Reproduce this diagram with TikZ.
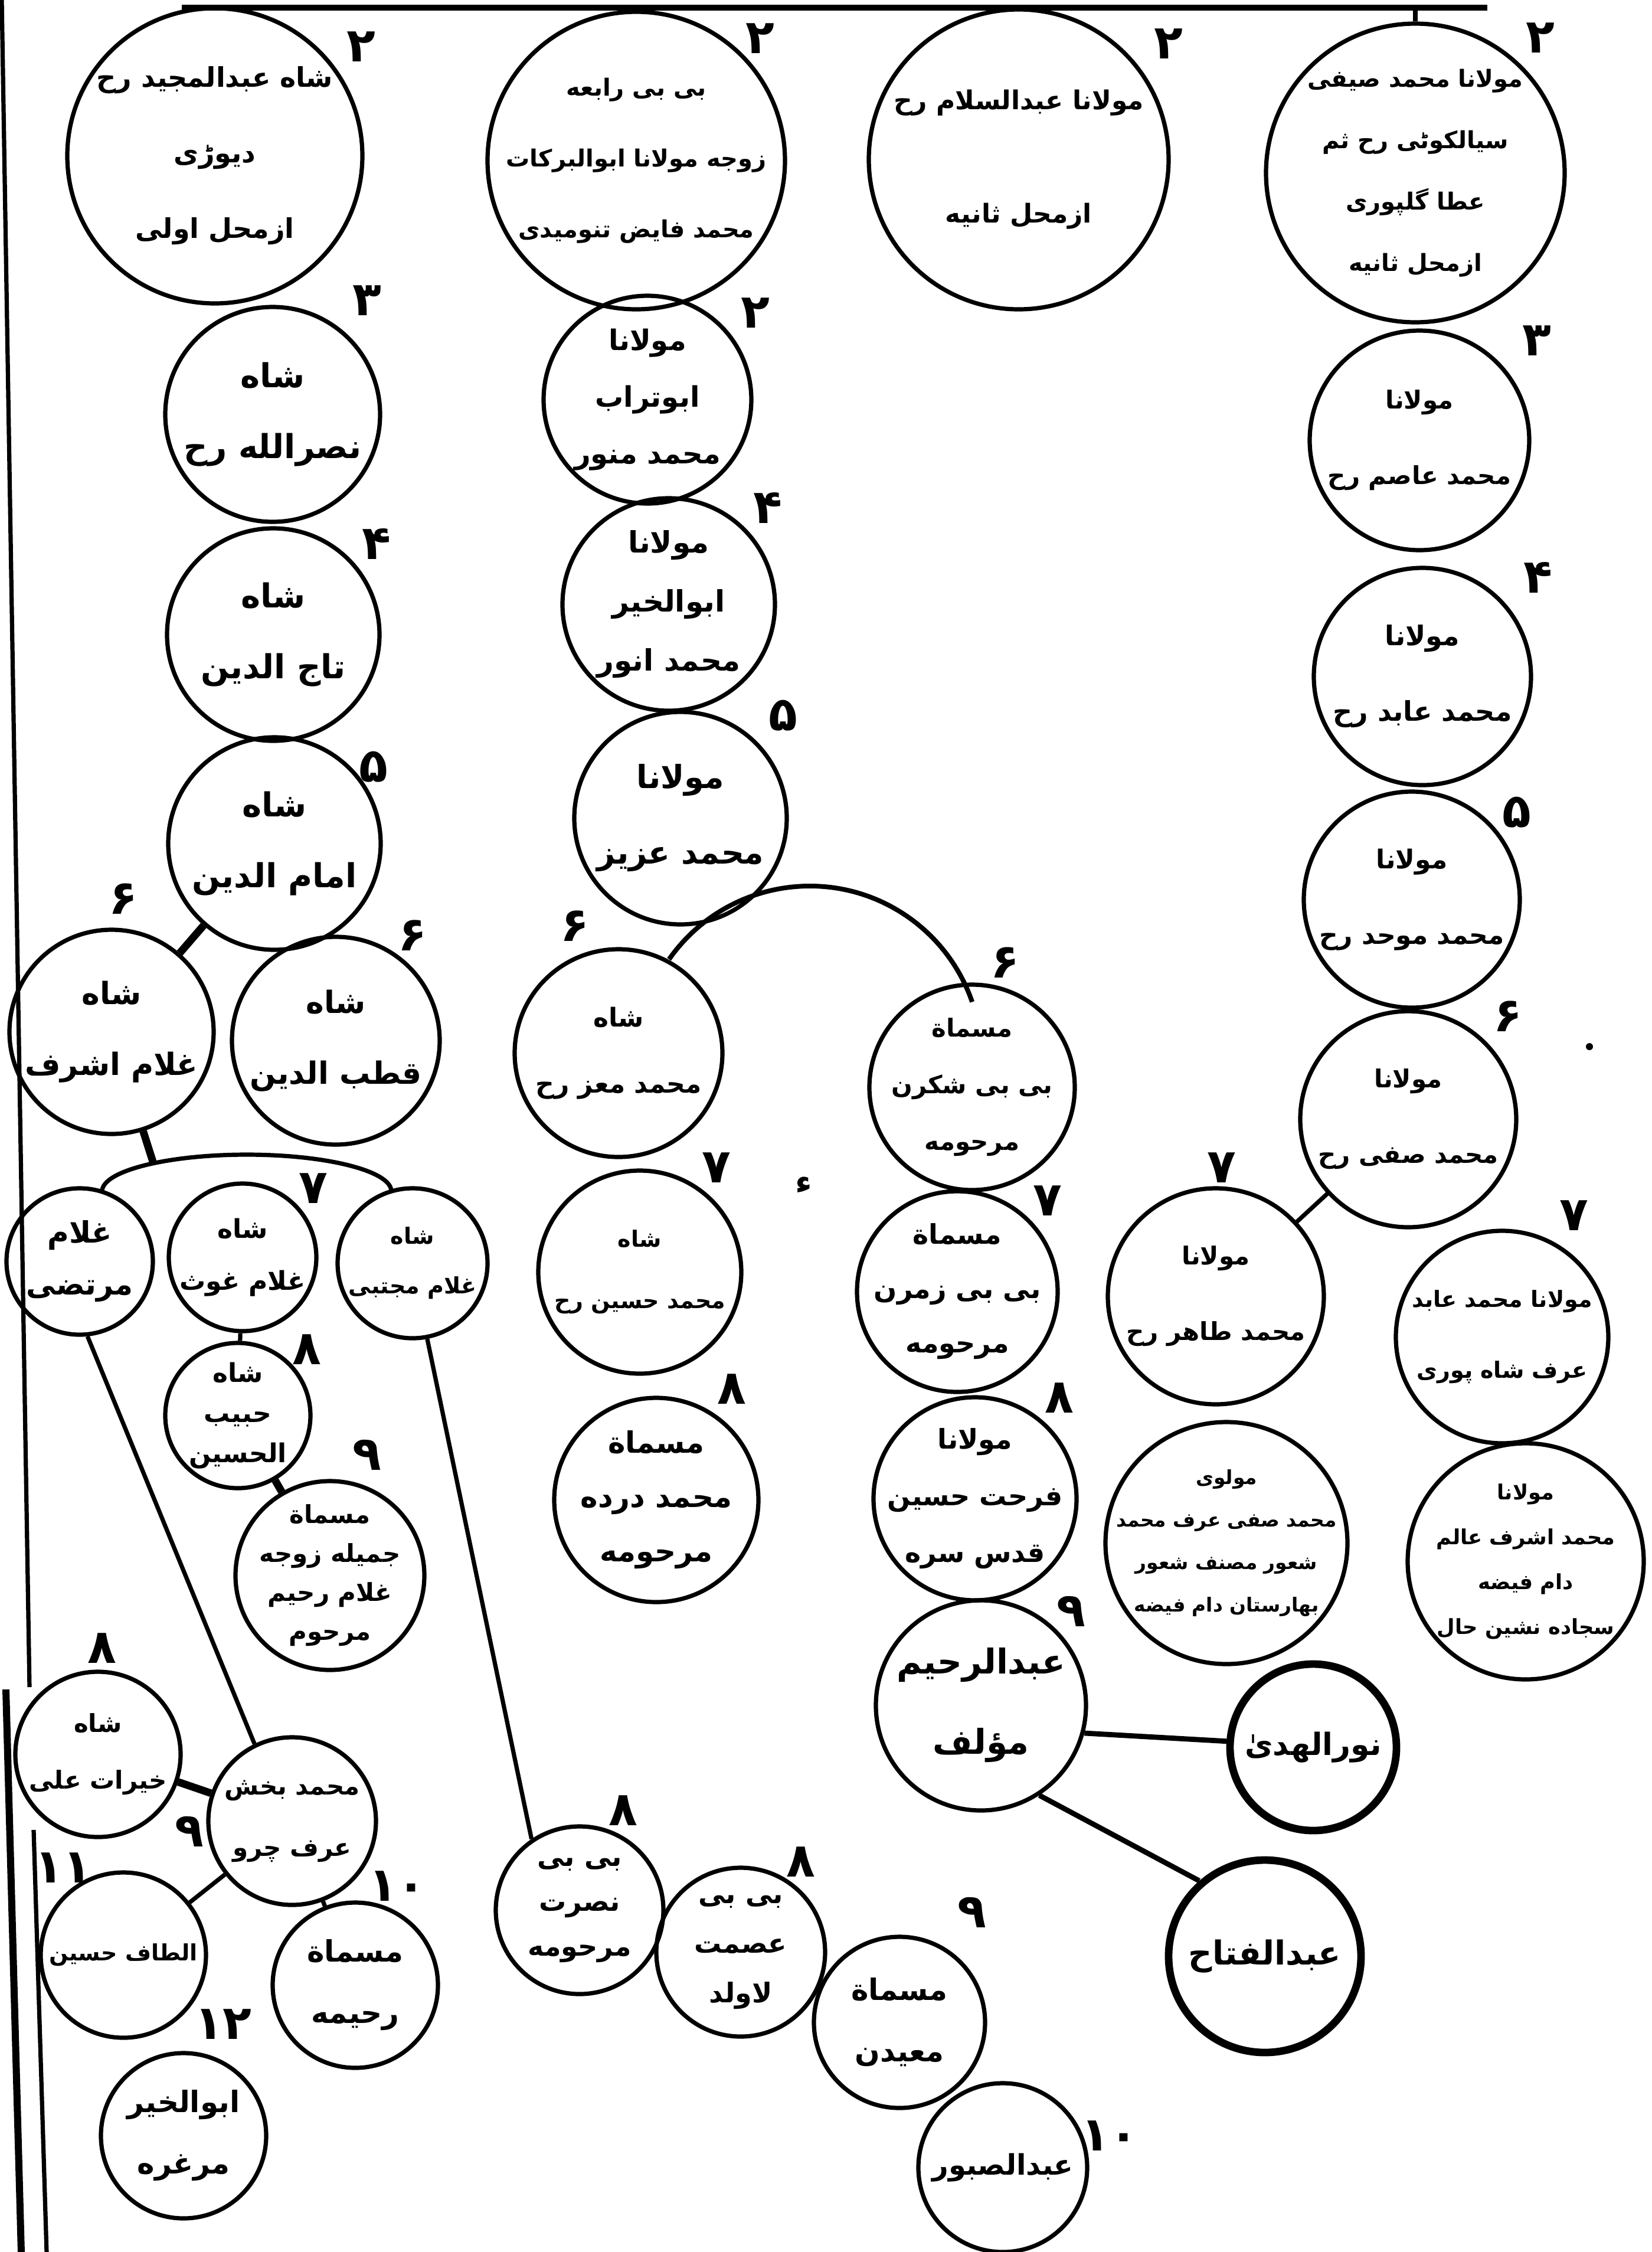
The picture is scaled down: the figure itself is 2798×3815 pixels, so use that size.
\documentclass[tikz,border=0pt]{standalone}
\usepackage{fontspec}
\newfontfamily\ar[Script=Arabic]{DejaVu Sans}
\TeXXeTstate=1
\newcommand\ur[1]{\beginR #1\endR}
\tikzset{
  pc/.style={circle, draw, line width=1.8pt, inner sep=0pt, minimum size={#1*0.5pt}},
  thickc/.style={line width=3.2pt},
  fs/.style 2 args={font=\ar\bfseries\fontsize{#1}{#2}\selectfont, align=center, inner sep=0pt},
  lab/.style={font=\ar\bfseries\fontsize{20}{20}\selectfont, inner sep=0pt},
  conn/.style={line width=1.8pt},
  tk/.style={line width=3.2pt},
  bord/.style={line width=1.8pt},
}
\begin{document}
\begin{tikzpicture}[x=0.25pt, y=-0.25pt]
\fill[white] (0,0) rectangle (2798,3815);
\useasboundingbox (0,0) rectangle (2798,3815);

% ---- frame lines
\coordinate (tl) at (308,13);
\coordinate (tr) at (2520,13);
\draw[line width=2.6pt] (tl) -- (tr);
\coordinate (b1) at (3,0);
\coordinate (b2) at (50,2858);
\coordinate (b3) at (57,3100);
\coordinate (b4) at (79,3815);
\coordinate (b5) at (10,2862);
\coordinate (b6) at (36,3815);
\draw[bord] (b1) -- (b2) (b3) -- (b4);
\draw[line width=3pt] (b5) -- (b6);

% ---- circles
\node[pc=250] (majeed) at (364,264) {};
\node[pc=182] (nasr) at (462,702) {};
\node[pc=180] (taj) at (463,1075) {};
\node[pc=180] (imam) at (465,1429) {};
\node[pc=173] (ashraf) at (189,1748) {};
\node[pc=176] (qutb) at (569,1763) {};
\node[pc=124] (murtaza) at (135,2137) {};
\node[pc=125] (ghaus) at (411,2130) {};
\node[pc=127] (mujtaba) at (699,2140) {};
\node[pc=123] (habib) at (403,2398) {};
\node[pc=160] (jamila) at (559,2669) {};
\node[pc=140] (khairat) at (166,2972) {};
\node[pc=142] (bakhsh) at (495,3085) {};
\node[pc=140] (altaf) at (209,3312) {};
\node[pc=140] (rahima) at (602,3363) {};
\node[pc=140] (abulkhair) at (311,3618) {};
\node[pc=252] (rabia) at (1078,272) {};
\node[pc=176] (turab) at (1097,677) {};
\node[pc=180] (anwar) at (1133,1024) {};
\node[pc=180] (aziz) at (1153,1386) {};
\node[pc=176] (muizz) at (1048,1784) {};
\node[pc=172] (husain) at (1084,2155) {};
\node[pc=173] (muhammadi) at (1112,2541) {};
\node[pc=142] (nusrat) at (982,3236) {};
\node[pc=143] (ismat) at (1255,3307) {};
\node[pc=145] (maidan) at (1524,3426) {};
\node[pc=143] (sabur) at (1699,3672) {};
\node[pc=254] (salam) at (1726,270) {};
\node[pc=174] (shakran) at (1647,1842) {};
\node[pc=170] (zamran) at (1622,2188) {};
\node[pc=172] (farhat) at (1652,2539) {};
\node[pc=178] (rahim) at (1662,2889) {};
\node[pc=141, thickc] (noor) at (2225,2960) {};
\node[pc=163, thickc] (fattah) at (2143,3314) {};
\node[pc=253] (saifi) at (2398,293) {};
\node[pc=186] (asim) at (2405,746) {};
\node[pc=184] (abid) at (2410,1146) {};
\node[pc=183] (muwahhid) at (2392,1524) {};
\node[pc=183] (safi) at (2386,1896) {};
\node[pc=183] (tahir) at (2060,2196) {};
\node[pc=180] (shahpuri) at (2545,2265) {};
\node[pc=205] (maulvi) at (2078,2614) {};
\node[pc=200] (ashrafalam) at (2585,2645) {};

% ---- names
\node[fs={11.5}{32}] (majeedt) at (majeed) {\ur{شاه عبدالمجید رح}\\\ur{دیوڑی}\\\ur{ازمحل اولی}};
\node[fs={14}{30}] (nasrt) at (nasr) {\ur{شاه}\\\ur{نصرالله رح}};
\node[fs={14}{30}] (tajt) at (taj) {\ur{شاه}\\\ur{تاج الدین}};
\node[fs={14}{30}] (imamt) at (imam) {\ur{شاه}\\\ur{امام الدین}};
\node[fs={13}{30}] (ashraft) at (ashraf) {\ur{شاه}\\\ur{غلام اشرف}};
\node[fs={13}{30}] (qutbt) at (qutb) {\ur{شاه}\\\ur{قطب الدین}};
\node[fs={12.5}{22}] (murtazat) at (murtaza) {\ur{غلام}\\\ur{مرتضی}};
\node[fs={11}{22}] (ghaust) at (ghaus) {\ur{شاه}\\\ur{غلام غوث}};
\node[fs={9.5}{21}] (mujtabat) at (mujtaba) {\ur{شاه}\\\ur{غلام مجتبی}};
\node[fs={11}{17}] (habibt) at (habib) {\ur{شاه}\\\ur{حبیب}\\\ur{الحسین}};
\node[fs={10.5}{16.5}] (jamilat) at (jamila) {\ur{مسماة}\\\ur{جمیله زوجه}\\\ur{غلام رحیم}\\\ur{مرحوم}};
\node[fs={10.5}{24}] (khairatt) at (khairat) {\ur{شاه}\\\ur{خیرات علی}};
\node[fs={10.5}{26}] (bakhsht) at (bakhsh) {\ur{محمد بخش}\\\ur{عرف چرو}};
\node[fs={9.5}{22}] (altaft) at (altaf) {\ur{الطاف حسین}};
\node[fs={12.5}{26}] (rahimat) at (rahima) {\ur{مسماة}\\\ur{رحیمه}};
\node[fs={12.5}{26}] (abulkhairt) at (abulkhair) {\ur{ابوالخیر}\\\ur{مرغره}};
\node[fs={10}{30}] (rabiat) at (rabia) {\ur{بی بی رابعه}\\\ur{زوجه مولانا ابوالبرکات}\\\ur{محمد فایض تنومیدی}};
\node[fs={12}{24}] (turabt) at (turab) {\ur{مولانا}\\\ur{ابوتراب}\\\ur{محمد منور}};
\node[fs={12.5}{25}] (anwart) at (anwar) {\ur{مولانا}\\\ur{ابوالخیر}\\\ur{محمد انور}};
\node[fs={13.5}{32}] (azizt) at (aziz) {\ur{مولانا}\\\ur{محمد عزیز}};
\node[fs={11}{28}] (muizzt) at (muizz) {\ur{شاه}\\\ur{محمد معز رح}};
\node[fs={9.5}{26}] (husaint) at (husain) {\ur{شاه}\\\ur{محمد حسین رح}};
\node[fs={12.5}{23}] (muhammadit) at (muhammadi) {\ur{مسماة}\\\ur{محمد درده}\\\ur{مرحومه}};
\node[fs={11.5}{19}] (nusratt) at (nusrat) {\ur{بی بی}\\\ur{نصرت}\\\ur{مرحومه}};
\node[fs={11.5}{21}] (ismatt) at (ismat) {\ur{بی بی}\\\ur{عصمت}\\\ur{لاولد}};
\node[fs={12.5}{26}] (maidant) at (maidan) {\ur{مسماة}\\\ur{معیدن}};
\node[fs={12}{24}] (sabourt) at (sabur) {\ur{عبدالصبور}};
\node[fs={11}{48}] (salamt) at (salam) {\ur{مولانا عبدالسلام رح}\\\ur{ازمحل ثانیه}};
\node[fs={10.5}{24}] (shakrant) at (shakran) {\ur{مسماة}\\\ur{بی بی شکرن}\\\ur{مرحومه}};
\node[fs={11.5}{23}] (zamrant) at (zamran) {\ur{مسماة}\\\ur{بی بی زمرن}\\\ur{مرحومه}};
\node[fs={11.5}{24}] (farhatt) at (farhat) {\ur{مولانا}\\\ur{فرحت حسین}\\\ur{قدس سره}};
\node[fs={14.5}{34}] (rahimt) at (rahim) {\ur{عبدالرحیم}\\\ur{مؤلف}};
\node[fs={13}{26}] (noort) at (noor) {\ur{نورالهدیٰ}};
\node[fs={14}{26}] (fattaht) at (fattah) {\ur{عبدالفتاح}};
\node[fs={10}{26}] (saifit) at (saifi) {\ur{مولانا محمد صیفی}\\\ur{سیالکوٹی رح ثم}\\\ur{عطا گلپوری}\\\ur{ازمحل ثانیه}};
\node[fs={10.5}{32}] (asimt) at (asim) {\ur{مولانا}\\\ur{محمد عاصم رح}};
\node[fs={11.5}{32}] (abidt) at (abid) {\ur{مولانا}\\\ur{محمد عابد رح}};
\node[fs={11}{32}] (muwahhidt) at (muwahhid) {\ur{مولانا}\\\ur{محمد موحد رح}};
\node[fs={10.5}{32}] (safit) at (safi) {\ur{مولانا}\\\ur{محمد صفی رح}};
\node[fs={10.5}{32}] (tahirt) at (tahir) {\ur{مولانا}\\\ur{محمد طاهر رح}};
\node[fs={9.5}{30}] (shahpurit) at (shahpuri) {\ur{مولانا محمد عابد}\\\ur{عرف شاه پوری}};
\node[fs={8.2}{18}] (maulvit) at (maulvi) {\ur{مولوی}\\\ur{محمد صفی عرف محمد}\\\ur{شعور مصنف شعور}\\\ur{بهارستان دام فیضه}};
\node[fs={8.8}{19}] (ashrafalamt) at (ashrafalam) {\ur{مولانا}\\\ur{محمد اشرف عالم}\\\ur{دام فیضه}\\\ur{سجاده نشین حال}};

% ---- connectors
\draw[conn] (saifi.north) -- (saifi.north |- tl);
\draw[tk] (imam) -- (ashraf);
\coordinate (sa) at (260,1971);
\draw[tk] (ashraf) -- (sa);
\coordinate (sL) at (173,2018);
\draw[conn] (sL) arc[start angle=180, end angle=0, x radius=61.25pt, y radius=15.5pt];
\draw[conn] (ghaus) -- (habib);
\draw[tk] (habib) -- (jamila);
\draw[conn] (murtaza.-84) -- (bakhsh.116);
\draw[conn] (mujtaba.-79) -- (nusrat.124);
\draw[tk] (khairat) -- (bakhsh);
\draw[conn] (bakhsh) -- (altaf);
\draw[conn] (bakhsh) -- (rahima);
\coordinate (mA) at (1133.6,1625.1);
\draw[line width=2pt] (mA) arc[start angle=145, end angle=19, radius=72.75pt];
\draw[conn] (safi) -- (tahir);
\draw[line width=2.2pt] (rahim.-15) -- (noor.176);
\draw[line width=2.2pt] (rahim.-57) -- (fattah.131);

% ---- generation numbers
\node[lab] (g1) at (612,79) {۲};
\node[lab] (g2) at (1288,65) {۲};
\node[lab] (g3) at (1980,74) {۲};
\node[lab] (g4) at (2610,64) {۲};
\node[lab] (g5) at (622,509) {۳};
\node[lab] (g6) at (1280,530) {۲};
\node[lab] (g7) at (2604,577) {۳};
\node[lab] (g8) at (638,921) {۴};
\node[lab] (g9) at (1301,860) {۴};
\node[lab] (g10) at (2606,978) {۴};
\node[lab] (g11) at (633,1299) {۵};
\node[lab] (g12) at (1327,1212) {۵};
\node[lab] (g13) at (2570,1376) {۵};
\node[lab] (g14) at (209,1523) {۶};
\node[lab] (g15) at (699,1585) {۶};
\node[lab] (g16) at (974,1569) {۶};
\node[lab] (g17) at (1703,1631) {۶};
\node[lab] (g18) at (2555,1722) {۶};
\node[lab] (g19) at (531,2013) {۷};
\node[lab] (g20) at (1214,1978) {۷};
\node[lab] (g21) at (1775,2034) {۷};
\node[lab] (g22) at (2070,1978) {۷};
\node[lab] (g23) at (2667,2059) {۷};
\node[lab] (g24) at (520,2286) {۸};
\node[lab] (g25) at (1240,2353) {۸};
\node[lab] (g26) at (1795,2368) {۸};
\node[lab] (g27) at (173,2792) {۸};
\node[lab] (g28) at (1056,3067) {۸};
\node[lab] (g29) at (1357,3154) {۸};
\node[lab] (g30) at (622,2465) {۹};
\node[lab] (g31) at (1815,2730) {۹};
\node[lab] (g32) at (321,3103) {۹};
\node[lab] (g33) at (1647,3240) {۹};
\node[lab] (g34) at (107,3164) {\mbox{۱}\mbox{۱}};
\node[lab] (g35) at (673,3195) {\mbox{۱}\mbox{۰}};
\node[lab] (g36) at (378,3429) {\mbox{۱}\mbox{۲}};
\node[lab] (g37) at (1880,3618) {\mbox{۱}\mbox{۰}};
\node[lab, font=\ar\bfseries\fontsize{14}{14}\selectfont] (hz) at (1362,2008) {ء};
\node[circle, fill, inner sep=0pt, minimum size=3pt] (dt) at (2693,1773) {};
\end{tikzpicture}
\end{document}
